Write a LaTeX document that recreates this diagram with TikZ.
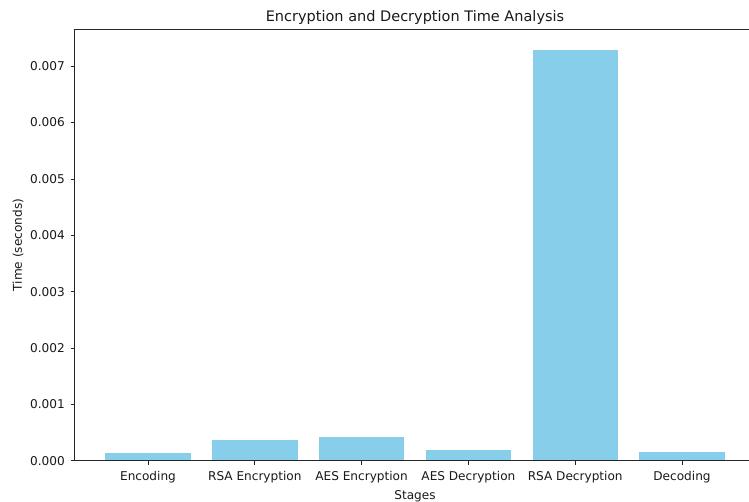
\documentclass[tikz,border=0pt]{standalone}
\usepackage{fontspec}
\setmainfont{DejaVu Sans}
\definecolor{skyblue}{HTML}{87CEEB}
\definecolor{txt}{HTML}{1A1A1A}
\begin{document}
\begin{tikzpicture}[x=1pt,y=-1pt,
  bar/.style={fill=skyblue,draw=none},
  spine/.style={draw=black!85,line width=0.8pt},
  tick/.style={draw=black!85,line width=0.8pt},
  ticklab/.style={font=\fontsize{12.1}{14}\selectfont,text=txt,inner sep=0pt},
  axlab/.style={font=\fontsize{12.1}{14}\selectfont,text=txt,inner sep=0pt},
  titlelab/.style={font=\fontsize{14.5}{17}\selectfont,text=txt,inner sep=0pt}]
\clip (0,0) rectangle (749,501);
\fill[white] (0,0) rectangle (749,501);
% bars
\foreach \i/\top in {0/453.3,1/440.3,2/436.7,3/450.3,4/50,5/451.7}{
  \pgfmathsetmacro{\cx}{148+\i*106.8}
  \fill[skyblue] (\cx-42.7,460.7) rectangle (\cx+42.7,\top);
}
% frame
\draw[spine] (74,460.7) rectangle (755.7,29.7);
% y ticks
\foreach \k in {0,...,7}{
  \pgfmathsetmacro{\yy}{460.7-\k*56.36}
  \draw[tick] (70.5,\yy) -- (74,\yy);
  \node[ticklab,anchor=east] (yt\k) at (65,\yy) {0.00\k};
}
% x ticks
\foreach \i/\lab in {0/Encoding,1/RSA Encryption,2/AES Encryption,3/AES Decryption,4/RSA Decryption,5/Decoding}{
  \pgfmathsetmacro{\cx}{148+\i*106.8}
  \draw[tick] (\cx,460.7) -- (\cx,464.5);
  \node[ticklab,anchor=base] (xt\i) at (\cx,480) {\lab};
}
\node[axlab,anchor=base] (xlabel) at (415,499) {Stages};
\node[axlab,rotate=90,anchor=center] (ylabel) at (18,245) {Time (seconds)};
\node[titlelab,anchor=base] (title) at (415,21) {Encryption and Decryption Time Analysis};
\end{tikzpicture}
\end{document}
